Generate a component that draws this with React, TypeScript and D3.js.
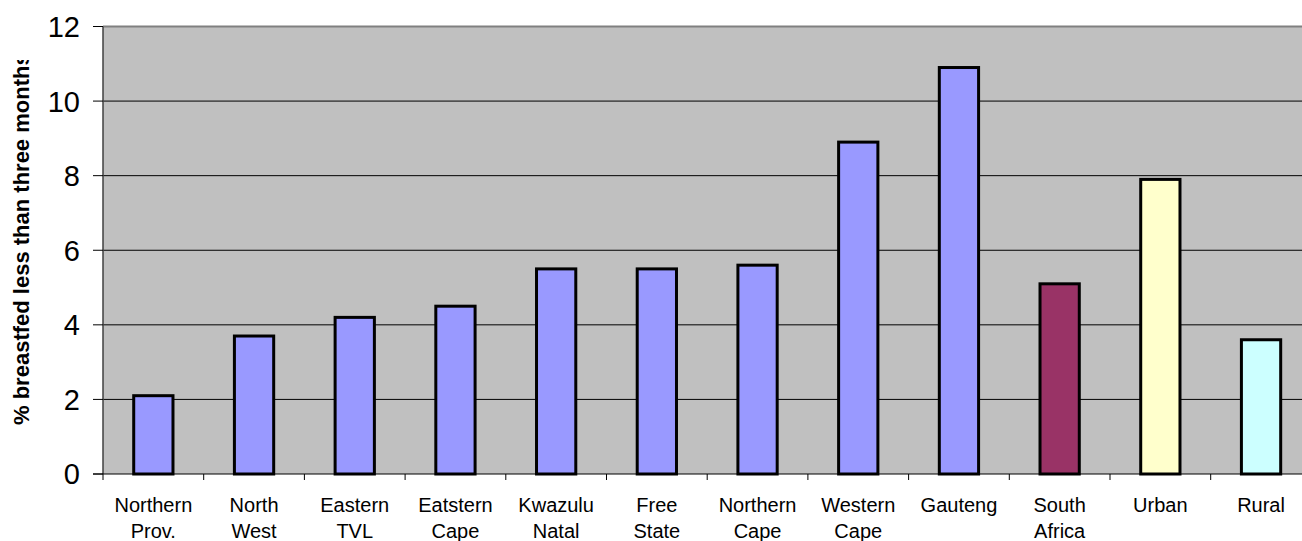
import React from "react";
import * as d3 from "d3";

const categories: string[][] = [
  ["Northern", "Prov."],
  ["North", "West"],
  ["Eastern", "TVL"],
  ["Eatstern", "Cape"],
  ["Kwazulu", "Natal"],
  ["Free", "State"],
  ["Northern", "Cape"],
  ["Western", "Cape"],
  ["Gauteng"],
  ["South", "Africa"],
  ["Urban"],
  ["Rural"],
];
const values: number[] = [2.1, 3.7, 4.2, 4.5, 5.5, 5.5, 5.6, 8.9, 10.9, 5.1, 7.9, 3.6];
const barColors: string[] = [
  "#9999FF", "#9999FF", "#9999FF", "#9999FF", "#9999FF", "#9999FF",
  "#9999FF", "#9999FF", "#9999FF", "#993366", "#FFFFCC", "#CCFFFF",
];
const yTicks: number[] = [0, 2, 4, 6, 8, 10, 12];
const yTitle = "% breastfed less than three months";

const W = 1302;
const H = 541;
const plotLeft = 103;
const plotTop = 26.5;
const plotBottom = 474;
const step = 100.7;

export default function App() {
  const ids = categories.map((_, i) => String(i));
  const x = d3
    .scaleBand<string>()
    .domain(ids)
    .range([plotLeft, plotLeft + step * ids.length])
    .paddingInner(0.61)
    .paddingOuter(0.305);
  const y = d3.scaleLinear().domain([0, 12]).range([plotBottom, plotTop]);
  const plotRight = plotLeft + step * ids.length;
  const font = "Arial, 'Liberation Sans', Helvetica, sans-serif";

  return (
    <svg
      width={W}
      height={H}
      style={{ position: "absolute", left: 0, top: 0, background: "#fff" }}
      fontFamily={font}
    >
      <defs>
        <clipPath id="titleClip">
          <rect x={0} y={60} width={60} height={400} />
        </clipPath>
      </defs>
      <rect
        x={plotLeft}
        y={plotTop}
        width={plotRight - plotLeft}
        height={plotBottom - plotTop}
        fill="#C0C0C0"
      />
      {yTicks
        .filter((t) => t > 0 && t < 12)
        .map((t) => (
          <line
            key={"g" + t}
            x1={plotLeft}
            x2={plotRight}
            y1={y(t)}
            y2={y(t)}
            stroke="#000"
            strokeWidth={1}
          />
        ))}
      <line
        x1={plotLeft}
        x2={plotRight}
        y1={y(12)}
        y2={y(12)}
        stroke="#808080"
        strokeWidth={2}
      />
      {values.map((v, i) => (
        <rect
          key={"b" + i}
          x={x(ids[i])!}
          y={y(v)}
          width={x.bandwidth()}
          height={y(0) - y(v)}
          fill={barColors[i]}
          stroke="#000"
          strokeWidth={3}
        />
      ))}
      <line x1={plotLeft} x2={plotLeft} y1={plotTop} y2={plotBottom} stroke="#404040" strokeWidth={1.5} />
      <line x1={plotLeft - 10} x2={plotRight} y1={plotBottom} y2={plotBottom} stroke="#000" strokeWidth={1} />
      {yTicks.map((t) => (
        <g key={"yt" + t}>
          <line x1={plotLeft - 10} x2={plotLeft} y1={y(t)} y2={y(t)} stroke="#000" strokeWidth={1} />
          <text x={80} y={y(t)} dy="0.36em" textAnchor="end" fontSize={29} fill="#000">
            {t}
          </text>
        </g>
      ))}
      {ids.map((id, i) => (
        <line
          key={"xt" + i}
          x1={plotLeft + step * i}
          x2={plotLeft + step * i}
          y1={plotBottom}
          y2={plotBottom + 6}
          stroke="#000"
          strokeWidth={1}
        />
      ))}
      {categories.map((lines, i) => (
        <text
          key={"xl" + i}
          x={x(ids[i])! + x.bandwidth() / 2}
          y={511.5}
          textAnchor="middle"
          fontSize={20}
          fill="#000"
        >
          {lines.map((l, j) => (
            <tspan key={j} x={x(ids[i])! + x.bandwidth() / 2} dy={j === 0 ? 0 : 26}>
              {l}
            </tspan>
          ))}
        </text>
      ))}
      <g clipPath="url(#titleClip)">
        <text
          transform={`translate(28.5, 425) rotate(-90)`}
          textAnchor="start"
          fontSize={22}
          fontWeight="bold"
          fill="#000"
        >
          {yTitle}
        </text>
      </g>
    </svg>
  );
}
